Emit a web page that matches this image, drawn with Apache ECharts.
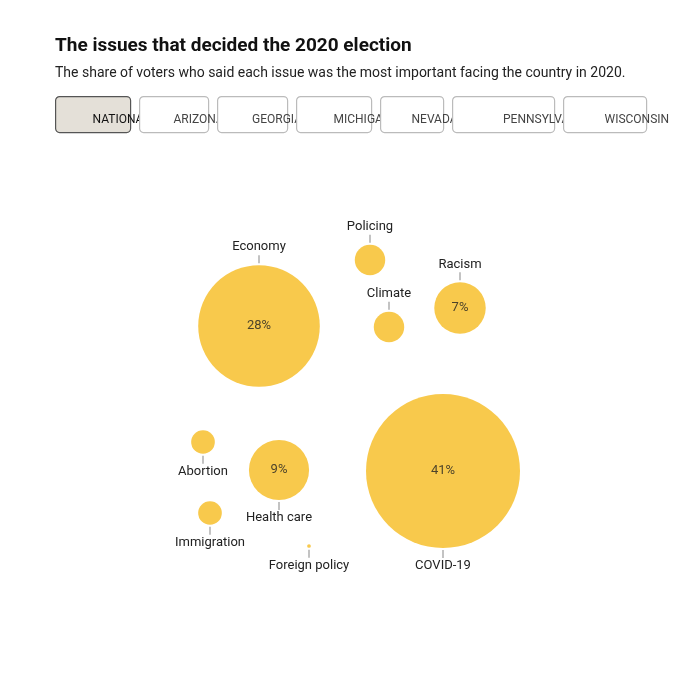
<!DOCTYPE html>
<html lang="en">
<head>
<meta charset="utf-8">
<title>The issues that decided the 2020 election</title>
<script src="https://cdn.jsdelivr.net/npm/echarts@6/dist/echarts.min.js"></script>
<style>
  html, body { margin: 0; padding: 0; background: #fff; }
  #chart { width: 680px; height: 677px; }
</style>
</head>
<body>
<div id="chart"></div>
<script>
// issue names and national share (%)
var issues = ['Economy', 'Policing', 'Climate', 'Racism', 'Abortion', 'Health care', 'Immigration', 'Foreign policy', 'COVID-19'];
var shares = [28, 3, 3, 7, 2, 9, 2, 0.1, 41];
// labels shown inside the circle (only the bigger ones)
var showPct = [true, false, false, true, false, true, false, false, true];
// label above or below the bubble
var labelSide = ['top', 'top', 'top', 'top', 'bottom', 'bottom', 'bottom', 'bottom', 'bottom'];
// packed layout positions
var layoutX = [259, 370, 389, 460, 203, 279, 210, 309, 443];
var layoutY = [326, 260, 327, 308, 442, 470, 513, 546, 471];
var tabs = ['NATIONAL', 'ARIZONA', 'GEORGIA', 'MICHIGAN', 'NEVADA', 'PENNSYLVANIA', 'WISCONSIN'];
var tabWidths = [75, 69, 70, 75, 63, 102, 83];

var font = 'Roboto, "Liberation Sans", sans-serif';

function radius(v) {
  // radius grows about v^0.62, scaled so 41% is 77px
  return 77 * Math.pow(v / 41, 0.62);
}

var points = issues.map(function (name, i) {
  return {
    name: name,
    value: [layoutX[i], layoutY[i], shares[i]],
    label: {
      position: labelSide[i],
      formatter: labelSide[i] === 'top' ? '{n|' + name + '}\n{t|}' : '{t|}\n{n|' + name + '}'
    }
  };
});

var pctPoints = issues.map(function (name, i) {
  return {
    name: name,
    value: [layoutX[i], layoutY[i], shares[i]],
    label: { show: showPct[i] }
  };
});

// tab buttons
var graphics = [];
var tx = 55;
tabs.forEach(function (t, i) {
  var w = tabWidths[i];
  graphics.push({
    type: 'rect',
    left: tx, top: 96,
    shape: { width: w, height: 36, r: 4 },
    style: {
      fill: i === 0 ? '#e4e0d8' : '#fff',
      stroke: i === 0 ? '#555' : '#bbb',
      lineWidth: 1.2
    }
  });
  graphics.push({
    type: 'text',
    left: tx + w / 2, top: 114,
    style: {
      text: t, fill: i === 0 ? '#111' : '#444',
      font: '12px ' + font, align: 'center', verticalAlign: 'middle'
    }
  });
  tx += w + 9;
});

var myChart = echarts.init(document.getElementById('chart'));
var option = {
  animation: false,
  title: {
    text: 'The issues that decided the 2020 election',
    subtext: 'The share of voters who said each issue was the most important facing the country in 2020.',
    left: 50, top: 32,
    itemGap: 10,
    textStyle: { fontFamily: font, fontSize: 19, fontWeight: 'bold', color: '#111' },
    subtextStyle: { fontFamily: font, fontSize: 14, color: '#222' }
  },
  graphic: graphics,
  grid: { left: 0, right: 0, top: 0, bottom: 0 },
  xAxis: { type: 'value', min: 0, max: 680, show: false },
  yAxis: { type: 'value', min: 0, max: 677, inverse: true, show: false },
  series: [{
    type: 'scatter',
    data: points,
    symbolSize: function (v) { return 2 * radius(v[2]); },
    itemStyle: { color: '#f8c94c', opacity: 1 },
    label: {
      show: true,
      distance: 2,
      lineHeight: 10,
      rich: {
        n: { fontFamily: font, fontSize: 13, color: '#222', lineHeight: 16 },
        t: { width: 1, height: 8, backgroundColor: '#888', lineHeight: 8 }
      }
    }
  }, {
    type: 'scatter',
    data: pctPoints,
    symbolSize: 1,
    itemStyle: { color: 'transparent' },
    label: {
      position: 'inside',
      fontFamily: font, fontSize: 13, color: '#222',
      formatter: function (p) { return p.value[2] + '%'; }
    }
  }]
};
myChart.setOption(option);
</script>
</body>
</html>
